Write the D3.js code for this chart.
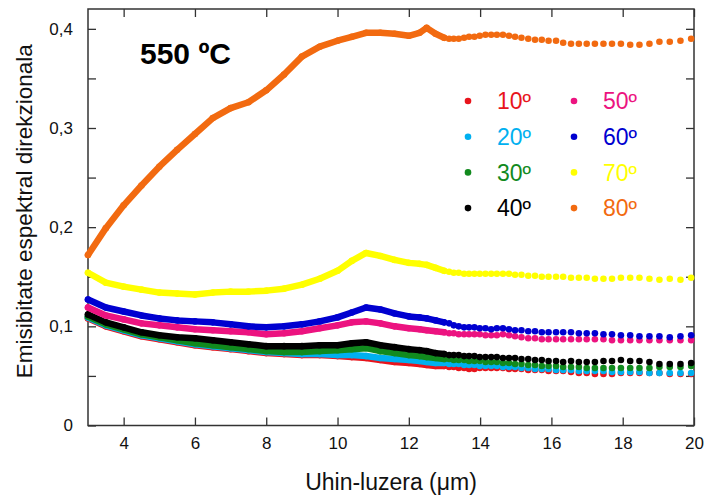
<!DOCTYPE html>
<html>
<head>
<meta charset="utf-8">
<script src="https://cdn.jsdelivr.net/npm/d3@7"></script>
<style>
  body { margin: 0; background: #fff; }
  text { font-family: Arial, "Liberation Sans", sans-serif; }
</style>
</head>
<body>
<div id="chart"></div>
<script>
// wavelength grid (um) - dense part first, then the individual dots
const wavelength = [3, 3.5, 4, 4.5, 5, 5.5, 6, 6.5, 7, 7.5, 8, 8.5, 9, 9.5, 10, 10.4, 10.8, 11.2, 11.6, 12, 12.3, 12.5, 12.75,
  12.99, 13.13, 13.26, 13.4, 13.55, 13.69, 13.84, 13.99, 14.15, 14.31, 14.47, 14.64, 14.81, 14.98, 15.16, 15.35, 15.54,
  15.73, 15.92, 16.13, 16.33, 16.55, 16.77, 16.99, 17.22, 17.46, 17.7, 17.95, 18.21, 18.47, 18.75, 19.03, 19.32, 19.62, 19.92];

const emis10 = [0.108, 0.100, 0.095, 0.090, 0.087, 0.084, 0.081, 0.079, 0.077, 0.075, 0.073, 0.072, 0.071, 0.071, 0.070, 0.069, 0.068, 0.066, 0.064, 0.063, 0.062, 0.061, 0.060,
  0.060, 0.059, 0.059, 0.058, 0.058, 0.057, 0.057, 0.058, 0.058, 0.058, 0.058, 0.058, 0.057, 0.057, 0.057, 0.056, 0.056, 0.056, 0.055, 0.055, 0.055, 0.054, 0.053, 0.053, 0.052, 0.052, 0.052, 0.053, 0.053, 0.053, 0.053, 0.053, 0.052, 0.052, 0.052];
const emis20 = [0.109, 0.101, 0.096, 0.091, 0.088, 0.085, 0.082, 0.080, 0.078, 0.076, 0.074, 0.073, 0.072, 0.072, 0.071, 0.071, 0.070, 0.068, 0.067, 0.066, 0.065, 0.064, 0.063,
  0.063, 0.062, 0.062, 0.062, 0.061, 0.061, 0.061, 0.060, 0.060, 0.060, 0.060, 0.059, 0.059, 0.059, 0.058, 0.058, 0.057, 0.057, 0.057, 0.056, 0.056, 0.056, 0.055, 0.055, 0.055, 0.055, 0.054, 0.054, 0.054, 0.054, 0.053, 0.053, 0.053, 0.053, 0.053];
const emis30 = [0.110, 0.102, 0.097, 0.092, 0.089, 0.086, 0.083, 0.081, 0.079, 0.077, 0.075, 0.074, 0.074, 0.075, 0.076, 0.077, 0.078, 0.075, 0.073, 0.071, 0.070, 0.069, 0.068,
  0.067, 0.067, 0.066, 0.066, 0.066, 0.065, 0.065, 0.065, 0.064, 0.064, 0.064, 0.063, 0.063, 0.062, 0.062, 0.061, 0.061, 0.060, 0.060, 0.060, 0.059, 0.059, 0.059, 0.058, 0.058, 0.058, 0.058, 0.058, 0.058, 0.058, 0.058, 0.059, 0.059, 0.059, 0.060];
const emis40 = [0.112, 0.104, 0.099, 0.094, 0.091, 0.089, 0.088, 0.086, 0.084, 0.082, 0.080, 0.080, 0.080, 0.081, 0.081, 0.083, 0.084, 0.081, 0.079, 0.077, 0.076, 0.075, 0.073,
  0.072, 0.071, 0.071, 0.071, 0.070, 0.070, 0.070, 0.069, 0.069, 0.069, 0.069, 0.068, 0.068, 0.068, 0.067, 0.067, 0.066, 0.066, 0.065, 0.065, 0.064, 0.065, 0.064, 0.064, 0.064, 0.065, 0.065, 0.066, 0.065, 0.065, 0.064, 0.062, 0.062, 0.062, 0.063];
const emis50 = [0.119, 0.111, 0.107, 0.103, 0.101, 0.099, 0.097, 0.096, 0.095, 0.094, 0.092, 0.093, 0.095, 0.098, 0.101, 0.104, 0.105, 0.103, 0.100, 0.098, 0.097, 0.096, 0.095,
  0.094, 0.093, 0.093, 0.092, 0.092, 0.092, 0.092, 0.092, 0.091, 0.091, 0.091, 0.092, 0.091, 0.090, 0.089, 0.088, 0.088, 0.087, 0.087, 0.087, 0.087, 0.087, 0.087, 0.087, 0.087, 0.087, 0.086, 0.086, 0.086, 0.086, 0.086, 0.086, 0.086, 0.086, 0.086];
const emis60 = [0.127, 0.119, 0.115, 0.111, 0.108, 0.106, 0.105, 0.104, 0.102, 0.100, 0.099, 0.100, 0.102, 0.105, 0.109, 0.114, 0.119, 0.117, 0.113, 0.110, 0.109, 0.108, 0.106,
  0.104, 0.103, 0.101, 0.100, 0.099, 0.099, 0.099, 0.098, 0.098, 0.097, 0.098, 0.098, 0.097, 0.096, 0.096, 0.095, 0.095, 0.094, 0.094, 0.094, 0.094, 0.094, 0.093, 0.093, 0.093, 0.092, 0.092, 0.091, 0.091, 0.090, 0.090, 0.090, 0.089, 0.090, 0.091];
const emis70 = [0.154, 0.144, 0.140, 0.137, 0.134, 0.133, 0.132, 0.134, 0.135, 0.135, 0.136, 0.138, 0.142, 0.148, 0.156, 0.166, 0.174, 0.171, 0.167, 0.164, 0.163, 0.162, 0.159,
  0.156, 0.155, 0.154, 0.154, 0.153, 0.153, 0.153, 0.153, 0.153, 0.153, 0.153, 0.153, 0.153, 0.152, 0.152, 0.151, 0.151, 0.150, 0.150, 0.150, 0.150, 0.149, 0.149, 0.149, 0.148, 0.148, 0.148, 0.149, 0.149, 0.149, 0.148, 0.147, 0.148, 0.147, 0.149];
const emis80 = [0.172, 0.199, 0.222, 0.242, 0.261, 0.278, 0.294, 0.310, 0.320, 0.326, 0.338, 0.354, 0.372, 0.382, 0.388, 0.392, 0.396, 0.396, 0.395, 0.393, 0.396, 0.401, 0.395,
  0.391, 0.390, 0.390, 0.390, 0.391, 0.392, 0.392, 0.393, 0.394, 0.394, 0.394, 0.394, 0.393, 0.392, 0.391, 0.390, 0.389, 0.389, 0.388, 0.388, 0.386, 0.385, 0.385, 0.385, 0.385, 0.385, 0.385, 0.385, 0.384, 0.384, 0.385, 0.387, 0.387, 0.388, 0.390];

const angleLabels = ['10º', '20º', '30º', '40º', '50º', '60º', '70º', '80º'];
const seriesColors = ['#e8141c', '#00b0f0', '#118a1e', '#000000', '#ec1380', '#0000d0', '#ffff00', '#f26a10'];
const xTicks = [4, 6, 8, 10, 12, 14, 16, 18, 20];
const yTicks = [0, 0.1, 0.2, 0.3, 0.4];
const yMinorTicks = [0.05, 0.15, 0.25, 0.35];

const allSeries = [emis10, emis20, emis30, emis40, emis50, emis60, emis70, emis80];
const denseUntil = 12.99; // below this the measured points merge into a solid band

const W = 707, H = 498;
const m = { left: 88, right: 13, top: 9, bottom: 72.5 };

const svg = d3.select('#chart').append('svg')
  .attr('width', W).attr('height', H);

const x = d3.scaleLinear().domain([3, 20]).range([m.left, W - m.right]);
const y = d3.scaleLinear().domain([0, 0.42]).range([H - m.bottom, m.top]);

const fmt = d => d === 0 ? '0' : d.toFixed(1).replace('.', ',');

// axes (ticks point inwards on every side)
const gx = svg.append('g').attr('transform', `translate(0,${y(0)})`)
  .call(d3.axisBottom(x).tickValues(xTicks).tickSize(-8).tickPadding(11).tickFormat(d3.format('d')));
svg.append('g').attr('transform', `translate(0,${m.top})`)
  .call(d3.axisTop(x).tickValues(xTicks).tickSize(-8).tickFormat(''));
const gy = svg.append('g').attr('transform', `translate(${m.left},0)`)
  .call(d3.axisLeft(y).tickValues(yTicks).tickSize(-8).tickPadding(15).tickFormat(fmt));
svg.append('g').attr('transform', `translate(${m.left},0)`)
  .call(d3.axisLeft(y).tickValues(yMinorTicks).tickSize(-8).tickFormat(''));
svg.append('g').attr('transform', `translate(${W - m.right},0)`)
  .call(d3.axisRight(y).tickValues(yTicks.concat(yMinorTicks)).tickSize(-8).tickFormat(''));

svg.selectAll('.domain').remove();
svg.selectAll('.tick line').attr('stroke', '#333').attr('stroke-width', 1.3);
svg.selectAll('.tick text').attr('fill', '#111').style('font-size', '17px')
  .style('font-family', 'Arial, "Liberation Sans", sans-serif');

svg.append('rect')
  .attr('x', m.left).attr('y', m.top)
  .attr('width', W - m.right - m.left).attr('height', y(0) - m.top)
  .attr('fill', 'none').attr('stroke', '#333').attr('stroke-width', 1.5);

// data
const line = d3.line().x(d => x(d[0])).y(d => y(d[1]));

allSeries.forEach((vals, i) => {
  const pts = wavelength.map((w, j) => [w, vals[j]]);
  const g = svg.append('g').attr('class', 'series');
  g.append('path')
    .datum(pts.filter(p => p[0] <= denseUntil))
    .attr('d', line)
    .attr('fill', 'none')
    .attr('stroke', seriesColors[i])
    .attr('stroke-width', 6.5)
    .attr('stroke-linejoin', 'round')
    .attr('stroke-linecap', 'round');
  g.selectAll('circle')
    .data(pts)
    .enter()
    .append('circle')
    .attr('cx', d => x(d[0]))
    .attr('cy', d => y(d[1]))
    .attr('r', 3.3)
    .attr('fill', seriesColors[i]);
});

// legend, two columns of four
const legend = svg.append('g');
angleLabels.forEach((lab, i) => {
  const col = Math.floor(i / 4), row = i % 4;
  const lx = 468 + col * 106, ly = 101 + row * 35.7;
  legend.append('circle').attr('cx', lx).attr('cy', ly).attr('r', 3.3).attr('fill', seriesColors[i]);
  legend.append('text').attr('x', lx + 29).attr('y', ly + 8.2)
    .attr('fill', seriesColors[i]).style('font-size', '23px').text(lab);
});

// titles
svg.append('text').attr('x', 140).attr('y', 63.5)
  .style('font-size', '30px').style('font-weight', 'bold').attr('fill', '#000')
  .text('550 ºC');

svg.append('text').attr('x', (m.left + W - m.right) / 2).attr('y', 490)
  .attr('text-anchor', 'middle').style('font-size', '23px').attr('fill', '#111')
  .text('Uhin-luzera (μm)');

svg.append('text').attr('transform', `translate(32,${(m.top + y(0)) / 2 - 6}) rotate(-90)`)
  .attr('text-anchor', 'middle').style('font-size', '22.5px').attr('fill', '#111')
  .text('Emisibitate espektral direkzionala');
</script>
</body>
</html>
